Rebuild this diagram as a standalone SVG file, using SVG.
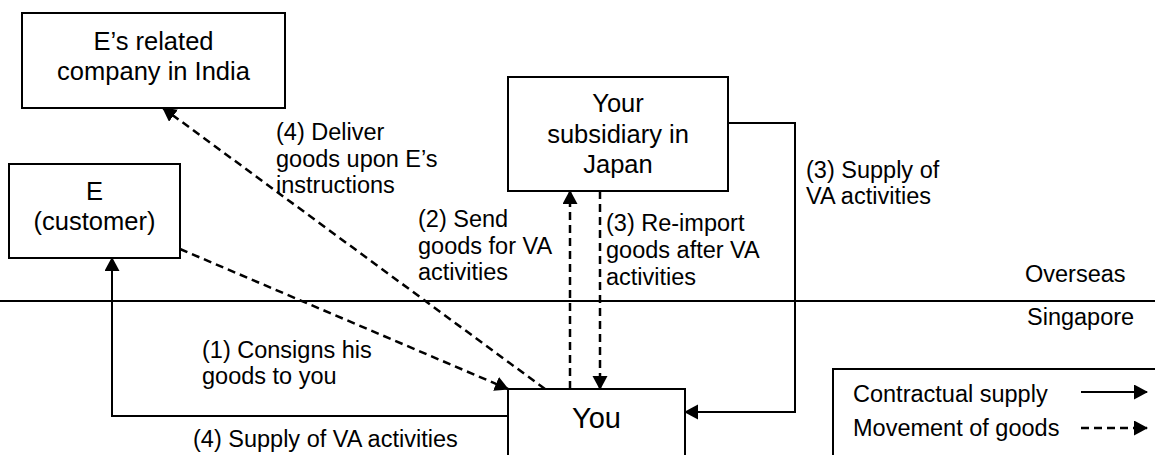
<svg xmlns="http://www.w3.org/2000/svg" width="1155" height="455" viewBox="0 0 1155 455">
  <style>
    .box { fill: #ffffff; stroke: #000000; stroke-width: 2; }
    .node { font-family: "Liberation Sans", Arial, sans-serif; font-size: 25.5px; fill: #000000; text-anchor: middle; }
    .you { font-family: "Liberation Sans", Arial, sans-serif; font-size: 29px; fill: #000000; text-anchor: middle; }
    .lbl { font-family: "Liberation Sans", Arial, sans-serif; font-size: 23.5px; fill: #000000; }
    .solid { fill: none; stroke: #000000; stroke-width: 2; }
    .dash { fill: none; stroke: #000000; stroke-width: 2.5; stroke-dasharray: 8 5; }
    .line { stroke: #000000; stroke-width: 2; }
  </style>
  <defs>
    <marker id="arr" markerUnits="userSpaceOnUse" markerWidth="16" markerHeight="16" refX="13" refY="7.5" orient="auto">
      <path d="M0,0 L14,7.5 L0,15 Z" fill="#000000"/>
    </marker>
  </defs>
  <rect width="1155" height="455" fill="#ffffff"/>

  <!-- region divider -->
  <g id="divider">
    <line class="line" x1="0" y1="301" x2="1155" y2="301"/>
    <text class="lbl" x="1025" y="282">Overseas</text>
    <text class="lbl" x="1027" y="325">Singapore</text>
  </g>

  <!-- nodes -->
  <g id="india">
    <rect class="box" x="22" y="13" width="263" height="95"/>
    <text class="node" x="153.5" y="50">E’s related</text>
    <text class="node" x="153.5" y="80">company in India</text>
  </g>
  <g id="customer">
    <rect class="box" x="9" y="164" width="171" height="94"/>
    <text class="node" x="94.5" y="200">E</text>
    <text class="node" x="94.5" y="230">(customer)</text>
  </g>
  <g id="japan">
    <rect class="box" x="508" y="77" width="220" height="114"/>
    <text class="node" x="618" y="112">Your</text>
    <text class="node" x="618" y="143">subsidiary in</text>
    <text class="node" x="618" y="173">Japan</text>
  </g>
  <g id="you">
    <rect class="box" x="508" y="389" width="177" height="80"/>
    <text class="you" x="596.5" y="428">You</text>
  </g>

  <!-- connectors -->
  <g id="connectors">
    <path class="dash" d="M180,249 L508,389" marker-end="url(#arr)"/>
    <path class="dash" d="M545,389 L163,108" marker-end="url(#arr)"/>
    <path class="dash" d="M570,389 L570,191" marker-end="url(#arr)"/>
    <path class="dash" d="M600,191 L600,389" marker-end="url(#arr)"/>
    <path class="solid" d="M728,123 H795 V412 H685" marker-end="url(#arr)"/>
    <path class="solid" d="M508,416 H112 V258" marker-end="url(#arr)"/>
  </g>

  <!-- connector labels -->
  <g id="labels">
    <text class="lbl" x="276" y="140">(4) Deliver</text>
    <text class="lbl" x="276" y="166.5">goods upon E’s</text>
    <text class="lbl" x="276" y="193">instructions</text>
    <text class="lbl" x="418" y="227">(2) Send</text>
    <text class="lbl" x="418" y="253.5">goods for VA</text>
    <text class="lbl" x="418" y="280">activities</text>
    <text class="lbl" x="606" y="231">(3) Re-import</text>
    <text class="lbl" x="606" y="258">goods after VA</text>
    <text class="lbl" x="606" y="285">activities</text>
    <text class="lbl" x="806" y="178">(3) Supply of</text>
    <text class="lbl" x="806" y="204">VA activities</text>
    <text class="lbl" x="202" y="358">(1) Consigns his</text>
    <text class="lbl" x="202" y="384">goods to you</text>
    <text class="lbl" x="193" y="447">(4) Supply of VA activities</text>
  </g>

  <!-- legend -->
  <g id="legend">
    <rect class="box" x="833" y="369" width="340" height="100"/>
    <text class="lbl" x="853" y="402">Contractual supply</text>
    <text class="lbl" x="853" y="436">Movement of goods</text>
    <path class="solid" d="M1081,392 H1147" marker-end="url(#arr)"/>
    <path class="dash" d="M1081,428 H1147" marker-end="url(#arr)"/>
  </g>
</svg>
